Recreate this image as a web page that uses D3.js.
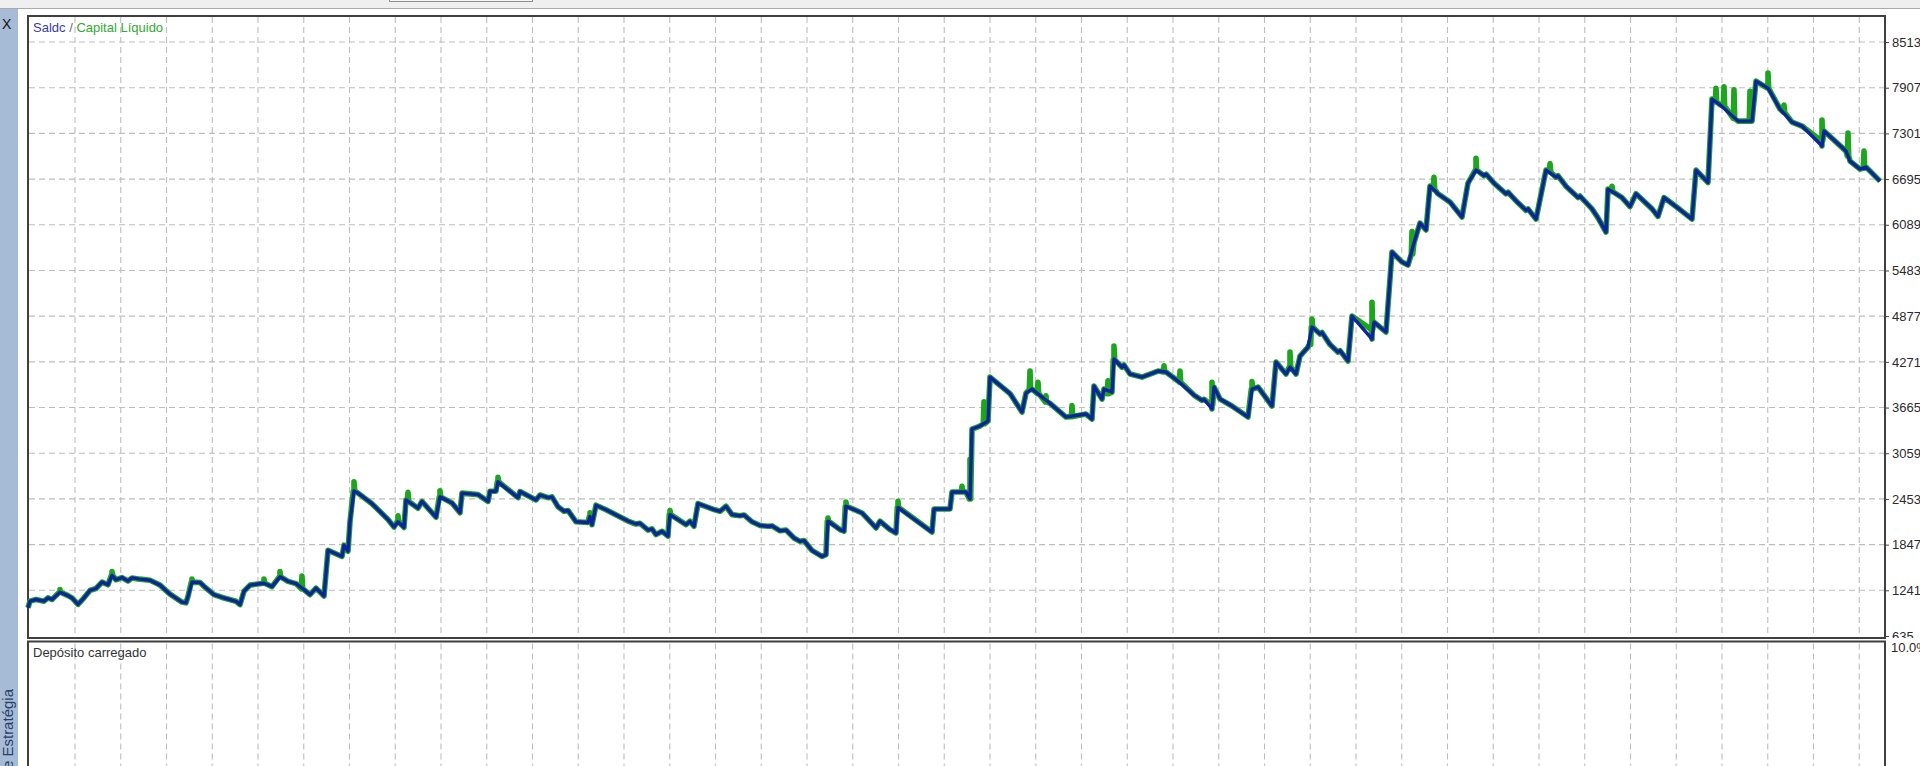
<!DOCTYPE html>
<html>
<head>
<meta charset="utf-8">
<script src="https://d3js.org/d3.v7.min.js"></script>
<style>
    body { margin: 0; background: #fff; overflow: hidden; }
    svg { display: block; font-family: "Liberation Sans", Arial, sans-serif; }
</style>
</head>
<body>
<div id="chart"></div>
<script>
// deal number and balance after each deal
var dealNo = [0,1,4,8,10,12,16,20,22,25,28,31,34,37,40,42,44,47,50,52,56,61,66,71,77,79,80,82,86,88,93,98,104,106,108,111,118,122,126,130,134,138,141,144,148,
    150,157,158,160,161,163,165,172,180,183,185,188,189,195,197,204,206,212,216,217,225,230,231,234,235,245,246,254,256,260,262,265,268,270,274,280,281,282,284,289,300,304,306,310,312,314,317,320,
    321,329,331,333,335,343,346,349,352,356,358,362,366,370,372,376,379,383,386,388,392,397,399,400,406,408,409,417,424,426,431,434,435,452,453,461,462,469,471,472,
    476,480,481,491,497,499,502,511,519,529,532,533,537,538,542,543,547,548,551,557,565,569,575,583,587,588,592,593,596,602,610,612,615,622,624,629,631,634,636,640,642,646,647,651,655,656,660,662,672,673,679,
    682,687,690,693,696,699,701,705,711,717,720,724,728,729,733,739,740,745,749,750,754,759,764,765,769,775,776,782,785,789,790,797,801,804,812,815,818,825,832,834,840,842,846,855,862,864,870,876,882,887,897,898,909,911,916,919,926];

var balance = [1010,1097,1119,1097,1141,1119,1215,1170,1140,1055,1141,1240,1265,1350,1315,1440,1381,1410,1365,1405,1389,1375,1310,1190,1085,1075,1160,1350,1345,1294,1183,1139,1095,1051,1228,1310,1335,1290,1420,1360,1330,1250,1183,1270,1165,
    1772,1690,1840,1760,2150,2560,2530,2390,2180,2080,2150,2075,2440,2330,2420,2210,2480,2400,2270,2530,2510,2420,2555,2555,2680,2470,2550,2440,2505,2470,2480,2350,2290,2300,2150,2140,2220,2110,2370,2310,2160,2120,2130,2040,2055,1980,2024,1960,
    2245,2112,2157,2090,2392,2312,2289,2356,2245,2230,2240,2150,2100,2090,2095,2030,2040,1935,1890,1900,1770,1690,1714,2157,2046,2024,2356,2267,2068,2157,2046,2002,2340,2014,2319,2319,2544,2544,2452,3380,
    3420,3486,4069,3850,3605,3857,3910,3720,3539,3579,3512,3950,3777,3910,3870,4308,4200,4230,4109,4069,4149,4136,4016,3830,3760,3775,3645,3937,3777,3685,3539,3910,3937,3685,4268,4109,4202,4109,4348,4467,4732,4640,4660,4500,4400,4420,4282,4878,4573,4798,4666,
    5727,5594,5554,5850,6111,6020,6602,6500,6390,6191,6642,6814,6740,6760,6640,6500,6520,6380,6280,6300,6164,6814,6720,6740,6600,6450,6470,6300,6180,5992,6562,6450,6330,6500,6300,6200,6450,6310,6164,6814,6650,7756,7680,7464,7464,7994,7900,7623,7451,7398,7133,7332,7066,6934,6827,6854,6668];

// equity excursions while positions were open
var spikeDeals = [16,42,82,118,126,137,163,185,190,206,235,281,321,400,409,435,467,471,478,501,505,509,522,540,543,568,576,592,612,631,641,642,672,692,703,724,761,792,844,848,853,861,870,878,897,910,918];
var spikePeaks = [1250,1490,1390,1390,1490,1430,2680,2230,2540,2560,2740,2270,2300,2200,2410,2420,2620,2980,3740,4150,4000,3820,3690,4020,4480,4220,4150,4000,4010,4400,4540,4840,5060,6000,6720,6970,6900,6600,7900,7920,7880,7860,8100,7677,7478,7306,7066];
var spikeBases = [1215,1440,1350,1335,1420,1260,2560,2150,2420,2480,2680,2220,2245,2157,2356,2340,2544,2452,3450,3900,3850,3740,3545,3850,4300,4136,4000,3700,3910,4202,4500,4732,4700,5700,6560,6814,6790,6530,7720,7660,7500,7464,7900,7580,7200,7000,6840];

var yTicks = [8513,7907,7301,6695,6089,5483,4877,4271,3665,3059,2453,1847,1241,635];
var legendParts = ["Saldc", " / ", "Capital Líquido"];
var lowerTitle = "Depósito carregado";
var lowerTick = "10.0%";
var sideTitle = "Testador de Estratégia";


BalanceChart = function(_parentElement){
    this.parentElement = _parentElement;
    this.initVis();
}

BalanceChart.prototype.initVis = function() {
    var vis = this;

    vis.frame = {left: 28, right: 1885, top: 16, bottom: 638, lowerTop: 641.5};

    // SVG drawing area
    vis.svg = d3.select("#" + vis.parentElement).append("svg")
        .attr("width", 1920)
        .attr("height", 766);

    vis.x = d3.scaleLinear().domain([0, 927]).range([28, 1882]);
    vis.y = d3.scaleLinear().domain([635, 8513]).range([636, 42]);

    // window bits around the chart
    vis.svg.append("rect")
        .attr("x", 0).attr("y", 0).attr("width", 1920).attr("height", 8)
        .attr("fill", "#efefef");
    vis.svg.append("line")
        .attr("x1", 0).attr("x2", 1920).attr("y1", 8.5).attr("y2", 8.5)
        .attr("stroke", "#aaaaaa");
    vis.svg.append("rect")
        .attr("x", 389.5).attr("y", -3).attr("width", 143).attr("height", 4.5)
        .attr("fill", "#f7f7f7").attr("stroke", "#8e8e8e");
    vis.svg.append("rect")
        .attr("x", 0).attr("y", 9).attr("width", 18).attr("height", 757)
        .attr("fill", "#a6bbd5");
    vis.svg.append("text")
        .attr("x", 2).attr("y", 29)
        .style("font-size", "14px")
        .attr("fill", "#111")
        .text("X");
    vis.svg.append("text")
        .attr("transform", "translate(13,689) rotate(-90)")
        .attr("text-anchor", "end")
        .style("font-size", "15px")
        .attr("fill", "#27406b")
        .text(sideTitle);

    vis.gridX = d3.range(40).map(function(k) { return 75 + k * 45.75; });

    vis.grid = vis.svg.append("g")
        .attr("stroke", "#bdbdbd")
        .attr("stroke-width", 1.1)
        .attr("stroke-dasharray", "6,4");

    vis.grid.selectAll(".vgrid")
        .data(vis.gridX)
        .enter().append("line")
        .attr("class", "vgrid")
        .attr("x1", function(d) { return d; })
        .attr("x2", function(d) { return d; })
        .attr("y1", vis.frame.top + 1)
        .attr("y2", vis.frame.bottom - 1);

    vis.grid.selectAll(".vgrid2")
        .data(vis.gridX)
        .enter().append("line")
        .attr("class", "vgrid2")
        .attr("x1", function(d) { return d; })
        .attr("x2", function(d) { return d; })
        .attr("y1", vis.frame.lowerTop + 2)
        .attr("y2", 766);

    vis.grid.selectAll(".hgrid")
        .data(yTicks.filter(function(d) { return d > 635; }))
        .enter().append("line")
        .attr("class", "hgrid")
        .attr("x1", vis.frame.left + 1)
        .attr("x2", vis.frame.right - 1)
        .attr("y1", function(d) { return vis.y(d); })
        .attr("y2", function(d) { return vis.y(d); });

    // frames of both panes
    vis.svg.append("rect")
        .attr("x", vis.frame.left).attr("y", vis.frame.top)
        .attr("width", vis.frame.right - vis.frame.left)
        .attr("height", vis.frame.bottom - vis.frame.top)
        .attr("fill", "none").attr("stroke", "#3f3f3f").attr("stroke-width", 2);
    vis.svg.append("rect")
        .attr("x", vis.frame.left).attr("y", vis.frame.lowerTop)
        .attr("width", vis.frame.right - vis.frame.left)
        .attr("height", 200)
        .attr("fill", "none").attr("stroke", "#3f3f3f").attr("stroke-width", 2);

    // right price axis, cut at the pane border
    vis.svg.append("clipPath").attr("id", "axisclip")
        .append("rect").attr("x", -5).attr("y", 0).attr("width", 45).attr("height", vis.frame.bottom);

    vis.yAxis = d3.axisRight(vis.y)
        .tickValues(yTicks)
        .tickSize(3)
        .tickPadding(3)
        .tickFormat(d3.format("d"));

    vis.axisG = vis.svg.append("g")
        .attr("transform", "translate(" + (vis.frame.right + 1) + ",0)")
        .attr("clip-path", "url(#axisclip)")
        .call(vis.yAxis);
    vis.axisG.select(".domain").remove();
    vis.axisG.attr("font-size", null).attr("font-family", null);
    vis.axisG.selectAll("line").attr("stroke", "#444");
    vis.axisG.selectAll("text")
        .style("font-size", "13px")
        .attr("fill", "#2b2b2b");

    vis.svg.append("text")
        .attr("x", 1891).attr("y", 652)
        .style("font-size", "13px")
        .attr("fill", "#2b2b2b")
        .text(lowerTick);

    // legend
    vis.legend = vis.svg.append("text")
        .attr("x", 33).attr("y", 32)
        .style("font-size", "13px");
    vis.legend.selectAll("tspan")
        .data(legendParts)
        .enter().append("tspan")
        .attr("fill", function(d, i) { return ["#3b3ba6", "#666688", "#33a833"][i]; })
        .attr("xml:space", "preserve")
        .text(function(d) { return d; });

    vis.svg.append("text")
        .attr("x", 33).attr("y", 657)
        .style("font-size", "13px")
        .attr("fill", "#333")
        .text(lowerTitle);

    vis.line = d3.line()
        .x(function(d) { return vis.x(d[0]); })
        .y(function(d) { return vis.y(d[1]); });

    vis.updateVis();
};

BalanceChart.prototype.updateVis = function() {
    var vis = this;

    vis.balanceData = dealNo.map(function(d, i) { return [d, balance[i]]; });

    // equity = balance while flat, plus the open-position excursions
    vis.equityData = vis.balanceData.slice();
    spikeDeals.forEach(function(d, i) {
        vis.equityData.push([d - 0.35, spikeBases[i]]);
        vis.equityData.push([d, spikePeaks[i]]);
        vis.equityData.push([d + 0.35, spikeBases[i]]);
    });
    vis.equityData = d3.sort(vis.equityData, function(a, b) { return a[0] - b[0]; });

    vis.svg.append("path")
        .datum(vis.equityData)
        .attr("d", vis.line)
        .attr("fill", "none")
        .attr("stroke", "#1ea51e")
        .attr("stroke-width", 5.6)
        .attr("stroke-linejoin", "round");

    vis.svg.append("path")
        .datum(vis.balanceData)
        .attr("d", vis.line)
        .attr("fill", "none")
        .attr("stroke", "#0f22a0")
        .attr("stroke-width", 3.4)
        .attr("stroke-linejoin", "round");
};

var chart = new BalanceChart("chart");
</script>
</body>
</html>
